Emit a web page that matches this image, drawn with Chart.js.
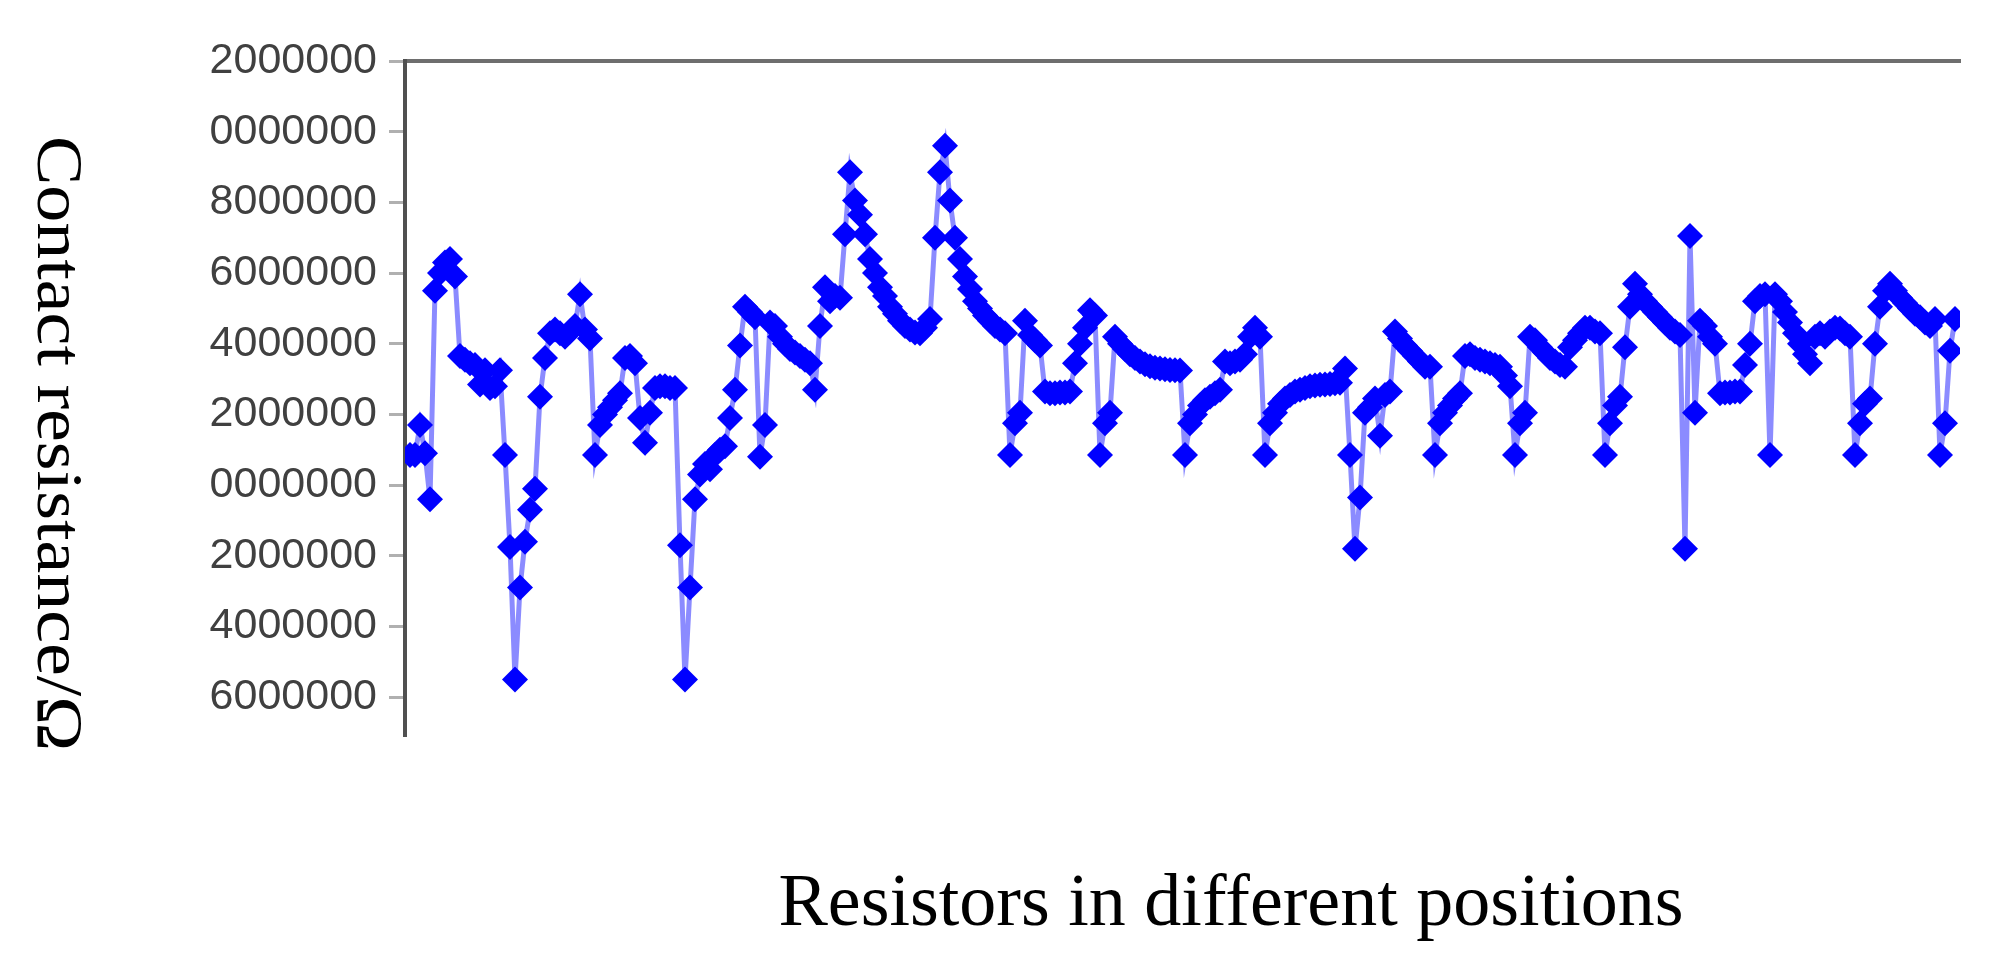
<!DOCTYPE html>
<html>
<head>
<meta charset="utf-8">
<title>Contact resistance</title>
<script src="https://cdn.jsdelivr.net/npm/chart.js@4.4.1/dist/chart.umd.min.js"></script>
<style>
  html, body { margin: 0; padding: 0; background: #fff; }
  #wrap { width: 2012px; height: 969px; position: relative; }
</style>
</head>
<body>
<div id="wrap"><canvas id="resChart" width="2012" height="969"></canvas></div>
<script>
// contact resistance, one value per resistor
const resistance = [
  0.85, 0.85, 1.7, 0.9, -0.4, 5.5, 6.0, 6.3, 6.4, 5.9,
  3.65, 3.55, 3.45, 3.4, 2.85, 3.25, 2.75, 2.8, 3.25,
  0.85, -1.75, -5.5, -2.9, -1.6, -0.7, -0.1,
  2.5, 3.6, 4.3, 4.4, 4.3, 4.2, 4.35, 4.5, 5.4, 4.4, 4.15,
  0.85, 1.7, 2.0, 2.2, 2.4, 2.6, 3.6, 3.65, 3.45, 1.9, 1.2, 2.05,
  2.75, 2.8, 2.8, 2.75, 2.75,
  -1.7, -5.5, -2.9, -0.4, 0.3, 0.6, 0.45, 0.85, 1.0, 1.1, 1.9, 2.7, 3.95, 5.05,
  4.9, 4.75, 0.8, 1.7, 4.6, 4.5, 4.2, 4.0, 3.85, 3.75, 3.65, 3.55, 3.45, 2.7,
  4.5, 5.6, 5.2, 5.35, 5.3, 7.1, 8.85, 8.05, 7.65, 7.1,
  6.4, 6.0, 5.6, 5.35, 5.05, 4.85, 4.65, 4.5, 4.4, 4.32, 4.3, 4.45, 4.7,
  7.0, 8.85, 9.6, 8.05, 7.0, 6.4, 5.9, 5.55, 5.2, 5.0, 4.8, 4.65, 4.5, 4.4, 4.3,
  0.85, 1.75, 2.05, 4.65, 4.25, 4.1, 3.95,
  2.65, 2.6, 2.6, 2.62, 2.62, 2.65, 3.45, 4.0, 4.45, 4.95, 4.8,
  0.85, 1.75, 2.05, 4.2, 4.0, 3.85, 3.7, 3.6, 3.5, 3.42, 3.36, 3.32, 3.3, 3.28, 3.26, 3.25, 3.24,
  0.85, 1.75, 2.0, 2.25, 2.4, 2.5, 2.6, 2.7, 3.5, 3.45, 3.5, 3.55, 3.7, 4.2, 4.45, 4.2,
  0.85, 1.75, 2.05, 2.3, 2.45, 2.55, 2.65, 2.7, 2.75, 2.8, 2.82, 2.84, 2.85, 2.86, 2.88, 2.9, 3.3,
  0.85, -1.8, -0.35, 2.05, 2.2, 2.45, 1.4, 2.55, 2.65,
  4.35, 4.15, 3.95, 3.8, 3.65, 3.5, 3.35, 3.35,
  0.85, 1.75, 2.05, 2.25, 2.45, 2.6, 3.65, 3.7, 3.6, 3.55, 3.5, 3.45, 3.4, 3.35, 3.1, 2.8,
  0.85, 1.75, 2.05, 4.2, 4.1, 3.9, 3.75, 3.6, 3.5, 3.4, 3.35, 3.9, 4.1, 4.3, 4.45, 4.45, 4.35, 4.3,
  0.85, 1.75, 2.25, 2.5, 3.9, 5.05, 5.7, 5.4, 5.2, 5.05, 4.9, 4.75, 4.6, 4.45, 4.35, 4.25,
  -1.8, 7.05, 2.05, 4.65, 4.5, 4.2, 4.0, 2.6, 2.62, 2.62, 2.65, 2.65, 3.4, 4.0, 5.2, 5.35, 5.4,
  0.85, 5.4, 5.2, 4.9, 4.6, 4.3, 4.0, 3.7, 3.45, 4.2, 4.3, 4.2, 4.35, 4.45, 4.43, 4.3, 4.2,
  0.85, 1.75, 2.3, 2.45, 4.0, 5.05, 5.5, 5.7, 5.5, 5.3, 5.15, 5.0, 4.85, 4.75, 4.6, 4.5, 4.7,
  0.85, 1.75, 3.8, 4.7
];
// resistor positions along the bottom (no tick labels are shown)
const positions = Array.from({ length: resistance.length }, (_, i) => i + 1);

// y ticks and the (left-cropped) labels as they appear in the figure
const tickValues = [12, 10, 8, 6, 4, 2, 0, -2, -4, -6];
const tickLabels = ['2000000', '0000000', '8000000', '6000000', '4000000',
                    '2000000', '0000000', '2000000', '4000000', '6000000'];

const xTitle = 'Resistors in different positions';
const yTitle = 'Contact resistance/\u03A9';

const axisTitles = {
  id: 'axisTitles',
  afterDraw(chart) {
    const ctx = chart.ctx;
    ctx.save();
    ctx.fillStyle = '#000';
    ctx.font = '74px "Liberation Serif"';
    ctx.textAlign = 'center';
    ctx.textBaseline = 'alphabetic';
    ctx.fillText(xTitle, 1231, 925);

    // y title runs top to bottom
    ctx.translate(38, 136);
    ctx.rotate(Math.PI / 2);
    ctx.scale(1.12, 1);
    ctx.font = '66px "Liberation Serif"';
    ctx.textAlign = 'left';
    ctx.fillText(yTitle, 0, 0);
    ctx.restore();
  }
};

new Chart(document.getElementById('resChart'), {
  type: 'line',
  data: {
    labels: positions,
    datasets: [{
      data: resistance,
      borderColor: 'rgba(110,110,255,0.8)',
      borderWidth: 5,
      pointStyle: 'rectRot',
      pointRadius: 13,
      pointBackgroundColor: '#0000ff',
      pointBorderWidth: 0,
      tension: 0
    }]
  },
  options: {
    responsive: false,
    animation: false,
    devicePixelRatio: 1,
    layout: { padding: { left: 0, top: 61, right: 52, bottom: 234 } },
    plugins: {
      legend: { display: false },
      tooltip: { enabled: false }
    },
    scales: {
      x: {
        type: 'linear',
        position: 'top',
        min: 0,
        max: resistance.length + 1,
        grid: { display: true, drawOnChartArea: false, drawTicks: false },
        border: { display: true, color: '#6e6e6e', width: 4 },
        ticks: { display: false },
        afterFit: (scale) => { scale.height = 0; }
      },
      y: {
        min: -7.07,
        max: 12,
        grid: { drawOnChartArea: false, drawTicks: true, tickLength: 16, color: '#b0b0b0', lineWidth: 3 },
        border: { display: true, color: '#505050', width: 4 },
        afterBuildTicks: (scale) => { scale.ticks = tickValues.map(v => ({ value: v })); },
        afterFit: (scale) => { scale.width = 405; },
        ticks: {
          padding: 12,
          color: '#404040',
          font: { family: '"Liberation Sans"', size: 43 },
          callback: (value) => {
            const k = tickValues.indexOf(value);
            return k >= 0 ? tickLabels[k] : '';
          }
        }
      }
    }
  },
  plugins: [axisTitles]
});
</script>
</body>
</html>
